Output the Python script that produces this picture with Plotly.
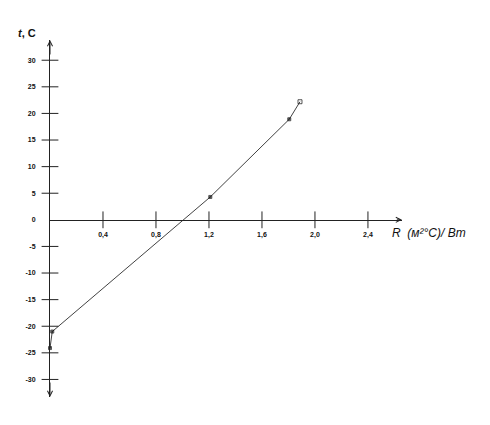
import plotly.graph_objects as go

# Data
r_vals = [0.0, 0.017, 1.21, 1.806, 1.887]
t_vals = [-24.1, -21.0, 4.3, 18.9, 22.2]
symbols = ["square", "square", "square", "square", "square-open"]

x_ticks = [0.4, 0.8, 1.2, 1.6, 2.0, 2.4]
x_tick_text = ["0,4", "0,8", "1,2", "1,6", "2,0", "2,4"]
y_ticks = [-30, -25, -20, -15, -10, -5, 0, 5, 10, 15, 20, 25, 30]
y_tick_text = [str(v) for v in y_ticks]
y_marks = [v for v in y_ticks if v != 0]

XMAX = 2.657
YMIN, YMAX = -33.3, 33.8

fig = go.Figure()

# tick marks crossing the axes
fig.add_trace(go.Scatter(
    x=x_ticks, y=[0] * len(x_ticks), mode="markers", hoverinfo="skip",
    marker=dict(symbol="line-ns", size=12, line=dict(width=1, color="#222")),
    cliponaxis=False, showlegend=False))
fig.add_trace(go.Scatter(
    x=[0] * len(y_marks), y=y_marks, mode="markers", hoverinfo="skip",
    marker=dict(symbol="line-ew", size=12, line=dict(width=1, color="#222")),
    cliponaxis=False, showlegend=False))

# data
fig.add_trace(go.Scatter(
    x=r_vals, y=t_vals, mode="lines+markers",
    line=dict(color="#111", width=0.8),
    marker=dict(symbol=symbols, size=[3, 3, 3, 3, 4], color="#111",
                line=dict(color="#111", width=1)),
    cliponaxis=False, showlegend=False))

tickfont = dict(family="Liberation Sans", size=7, color="#111", weight="bold")

fig.update_layout(
    width=490, height=425,
    margin=dict(l=42, r=96, t=32, b=36),
    paper_bgcolor="white", plot_bgcolor="white",
    xaxis=dict(range=[0, XMAX], showgrid=False, zeroline=False,
               showline=True, linecolor="#222", linewidth=1,
               anchor="free", position=(0 - YMIN) / (YMAX - YMIN),
               tickvals=x_ticks, ticktext=x_tick_text, ticks="",
               ticklabelstandoff=8, tickfont=tickfont, automargin=False),
    yaxis=dict(range=[YMIN, YMAX], showgrid=False, zeroline=False,
               showline=True, linecolor="#222", linewidth=1,
               tickvals=y_ticks, ticktext=y_tick_text, ticks="",
               ticklabelstandoff=12, tickfont=tickfont, automargin=False),
    annotations=[
        dict(x=XMAX, y=0, ax=XMAX - 0.05, ay=0, xref="x", yref="y",
             axref="x", ayref="y", showarrow=True, arrowhead=5,
             arrowsize=1, arrowwidth=1, arrowcolor="#222", text=""),
        dict(x=0, y=YMAX, ax=0, ay=YMAX - 3, xref="x", yref="y",
             axref="x", ayref="y", showarrow=True, arrowhead=5,
             arrowsize=1, arrowwidth=1, arrowcolor="#222", text=""),
        dict(x=0, y=YMIN, ax=0, ay=YMIN + 3, xref="x", yref="y",
             axref="x", ayref="y", showarrow=True, arrowhead=5,
             arrowsize=1, arrowwidth=1, arrowcolor="#222", text=""),
        dict(x=-0.065, y=1.0196, xref="paper", yref="paper", showarrow=False,
             xanchor="center", yanchor="middle",
             text="<b><i>t</i>, C</b>",
             font=dict(family="Liberation Sans", size=11, color="#111")),
        dict(x=0.967, y=0.458, xref="paper", yref="paper", showarrow=False,
             xanchor="left", yanchor="middle", text="<i>R  (м²°С)/ Вт</i>",
             font=dict(family="Liberation Sans", size=12, color="#111")),
    ],
)

fig.write_html("out.html")
